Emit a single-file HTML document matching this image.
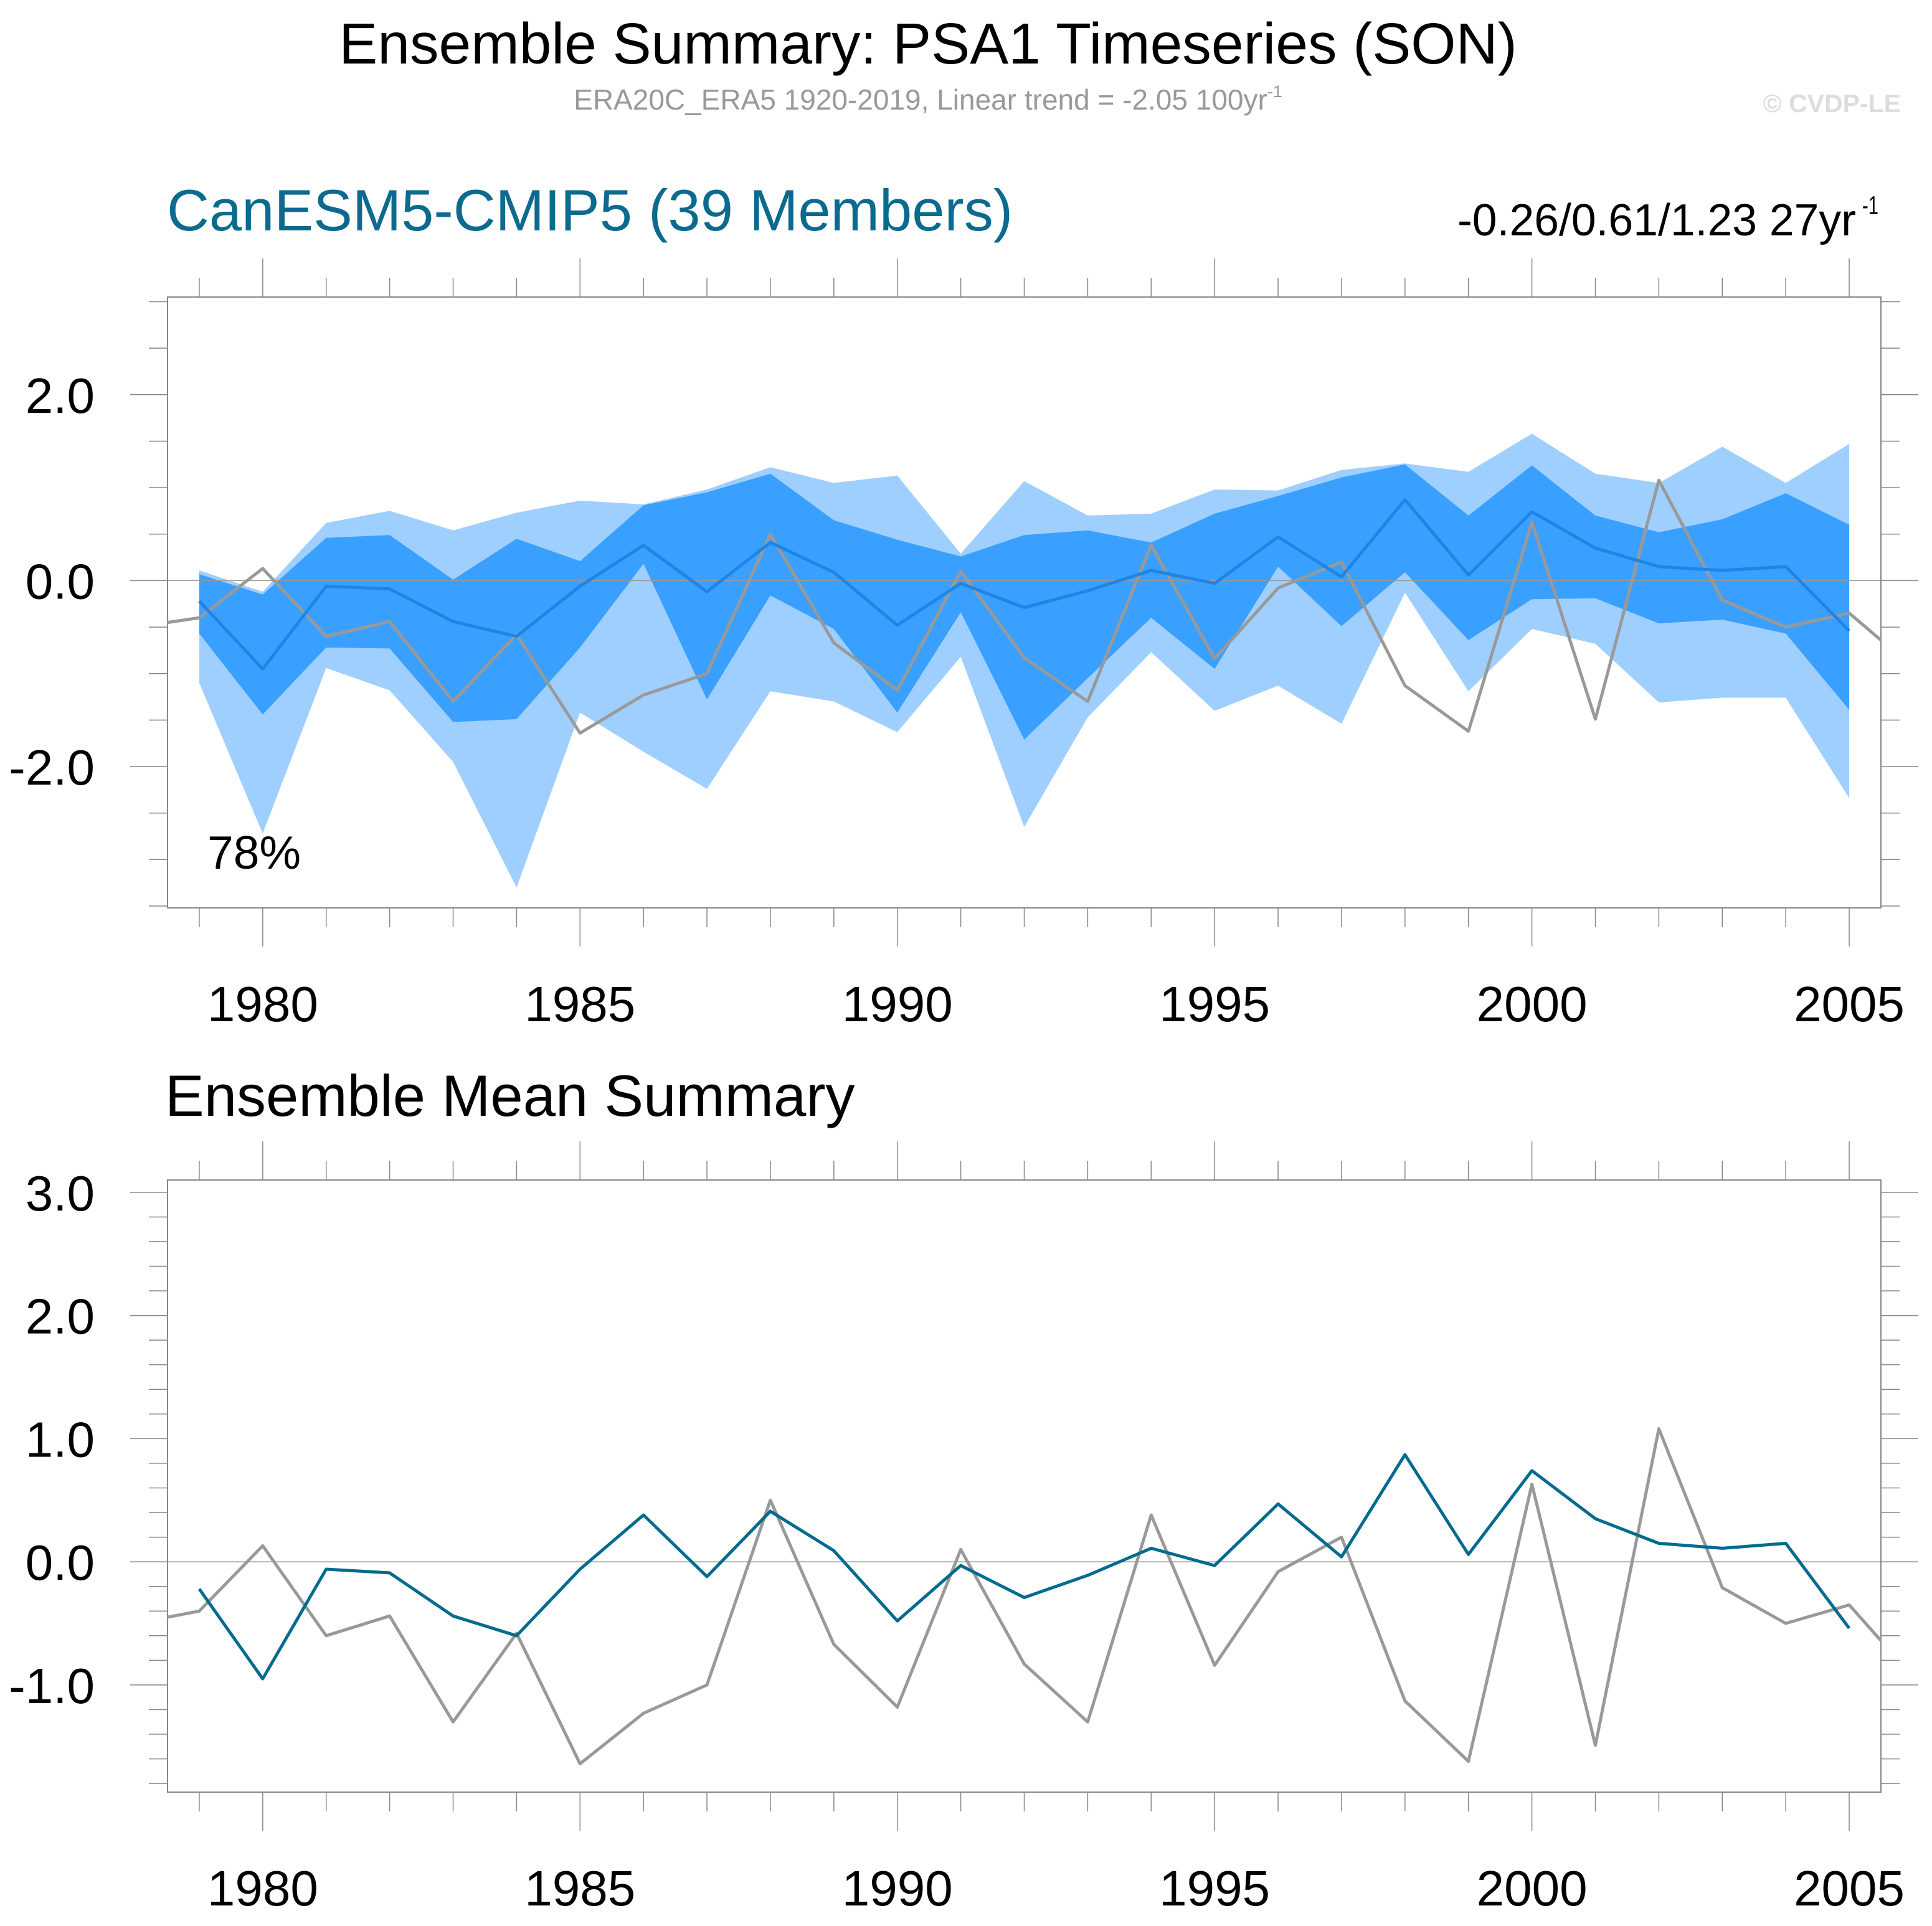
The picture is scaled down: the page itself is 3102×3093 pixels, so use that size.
<!DOCTYPE html>
<html><head><meta charset="utf-8">
<style>
html,body{margin:0;padding:0;background:#fff;}
svg{display:block;font-family:"Liberation Sans",sans-serif;}
</style></head>
<body>
<svg id="chart" width="3102" height="3093" viewBox="0 0 3102 3093" xmlns="http://www.w3.org/2000/svg">
<text x="1490" y="102" font-size="93" text-anchor="middle" fill="#000">Ensemble Summary: PSA1 Timeseries (SON)</text>
<text x="1490" y="176" font-size="46" text-anchor="middle" fill="#999">ERA20C_ERA5 1920-2019, Linear trend = -2.05 100yr<tspan font-size="27" dy="-20">-1</tspan></text>
<text x="3052" y="180" font-size="41" font-weight="bold" text-anchor="end" fill="#ddd">© CVDP-LE</text>
<text x="268" y="370" font-size="94" fill="#0B6A8E">CanESM5-CMIP5 (39 Members)</text>
<text x="2340" y="378" font-size="72" fill="#000" textLength="640" lengthAdjust="spacingAndGlyphs">-0.26/0.61/1.23 27yr</text>
<text x="2990" y="344" font-size="42" fill="#000" textLength="26" lengthAdjust="spacingAndGlyphs">-1</text>
<text x="265" y="1792" font-size="94" fill="#000">Ensemble Mean Summary</text>
<text x="333" y="1395" font-size="75" fill="#000">78%</text>
<g id="top"></g>
<g id="bot"></g>
</svg>
<script>
const years = [1979,1980,1981,1982,1983,1984,1985,1986,1987,1988,1989,1990,1991,1992,1993,1994,1995,1996,1997,1998,1999,2000,2001,2002,2003,2004,2005];
const ensMean = [-0.22,-0.95,-0.06,-0.09,-0.44,-0.60,-0.06,0.38,-0.12,0.41,0.09,-0.48,-0.03,-0.29,-0.11,0.11,-0.03,0.47,0.04,0.87,0.06,0.74,0.35,0.15,0.11,0.15,-0.54];
const bandMax = [0.11,-0.12,0.62,0.75,0.54,0.73,0.86,0.82,0.98,1.22,1.05,1.13,0.29,1.07,0.70,0.72,0.98,0.97,1.19,1.26,1.17,1.58,1.15,1.05,1.44,1.05,1.47];
const bandMin = [-1.10,-2.72,-0.94,-1.18,-1.95,-3.30,-1.42,-1.84,-2.24,-1.19,-1.30,-1.63,-0.82,-2.65,-1.47,-0.77,-1.40,-1.13,-1.54,-0.13,-1.19,-0.52,-0.68,-1.31,-1.26,-1.26,-2.34];
const innerHi = [0.07,-0.15,0.46,0.49,0.01,0.45,0.21,0.81,0.95,1.15,0.65,0.44,0.26,0.49,0.54,0.41,0.72,0.91,1.11,1.25,0.70,1.24,0.70,0.52,0.66,0.94,0.60];
const innerLo = [-0.57,-1.44,-0.72,-0.73,-1.52,-1.49,-0.72,0.18,-1.28,-0.16,-0.52,-1.42,-0.34,-1.71,-1.05,-0.40,-0.95,0.15,-0.49,0.09,-0.64,-0.20,-0.19,-0.46,-0.42,-0.57,-1.39];
const obsYears = [1978.5,1979,1980,1981,1982,1983,1984,1985,1986,1987,1988,1989,1990,1991,1992,1993,1994,1995,1996,1997,1998,1999,2000,2001,2002,2003,2004,2005,2005.5];
const obsVals = [-0.45,-0.40,0.13,-0.60,-0.44,-1.30,-0.58,-1.64,-1.23,-1.00,0.50,-0.67,-1.18,0.10,-0.83,-1.30,0.38,-0.84,-0.08,0.20,-1.13,-1.62,0.63,-1.49,1.08,-0.21,-0.50,-0.35,-0.64];
const topYTicks = [-2,0,2];
const topYLabels = ["-2.0","0.0","2.0"];
const botYTicks = [-1,0,1,2,3];
const botYLabels = ["-1.0","0.0","1.0","2.0","3.0"];
const xTickYears = [1980,1985,1990,1995,2000,2005];

const NS="http://www.w3.org/2000/svg";
function mk(parent,tag,attrs){const e=document.createElementNS(NS,tag);for(const k in attrs)e.setAttribute(k,attrs[k]);parent.appendChild(e);return e;}
const L=269,R=3020,X0=1978.5,X1=2005.5;
const xs=v=>L+(v-X0)/(X1-X0)*(R-L);

function drawAxes(g,top,bottom,ys,ymin,ymax,minorStep,yt,yl,labelY,prefix){
  let z=mk(g,'line',{x1:L,x2:R,y1:ys(0),y2:ys(0),stroke:'#999','stroke-width':1.5});
  
  let f=mk(g,'rect',{x:L,y:top,width:R-L,height:bottom-top,fill:'none',stroke:'#888','stroke-width':2});
  
  const n0=Math.ceil(ymin/minorStep-1e-6),n1=Math.floor(ymax/minorStep+1e-6);
  for(let i=n0;i<=n1;i++){const v=i*minorStep;const major=yt.some(t=>Math.abs(t-v)<1e-6);const len=major?60:30;const y=ys(v);
    const t1=mk(g,'line',{x1:L-len,x2:L,y1:y,y2:y,stroke:'#888','stroke-width':1.5});
    
    const t2=mk(g,'line',{x1:R,x2:R+len,y1:y,y2:y,stroke:'#888','stroke-width':1.5});
    }
  yt.forEach((v,i)=>{const t=mk(g,'text',{x:152,y:ys(v)+29,'font-size':80,'text-anchor':'end',fill:'#000'});t.textContent=yl[i];
    });
  for(let yr=1979;yr<=2005;yr++){const major=yr%5===0;const len=major?62:31;const x=xs(yr);
    const a=mk(g,'line',{x1:x,x2:x,y1:top-len,y2:top,stroke:'#888','stroke-width':1.5});
    
    const b=mk(g,'line',{x1:x,x2:x,y1:bottom,y2:bottom+len,stroke:'#888','stroke-width':1.5});
    }
  xTickYears.forEach(yr=>{const t=mk(g,'text',{x:xs(yr),y:labelY,'font-size':80,'text-anchor':'middle',fill:'#000'});t.textContent=String(yr);
    });
}
function line(g,xv,yv,ys,color,w,name){
  const d=xv.map((x,i)=>(i?'L':'M')+xs(x).toFixed(1)+','+ys(yv[i]).toFixed(1)).join(' ');
  const p=mk(g,'path',{d:d,fill:'none',stroke:color,'stroke-width':w,'stroke-linejoin':'round'});
  
}
function band(g,lo,hi,ys,color,name){
  let d=years.map((x,i)=>(i?'L':'M')+xs(x).toFixed(1)+','+ys(hi[i]).toFixed(1)).join(' ');
  for(let i=years.length-1;i>=0;i--)d+=' L'+xs(years[i]).toFixed(1)+','+ys(lo[i]).toFixed(1);
  const p=mk(g,'path',{d:d+' Z',fill:color,stroke:'none'});
  
}
const gt=document.getElementById('top');
const tT=477,tB=1458,tmin=-3.52,tmax=3.05;
const yst=v=>tB-(v-tmin)/(tmax-tmin)*(tB-tT);
band(gt,bandMin,bandMax,yst,'#9FCFFF','ensemble-range-band');
band(gt,innerLo,innerHi,yst,'#3AA0FF','ensemble-inner-band');
drawAxes(gt,tT,tB,yst,tmin,tmax,0.5,topYTicks,topYLabels,1640,'top');
line(gt,obsYears,obsVals,yst,'#999',5,'top-observed-line');
line(gt,years,ensMean,yst,'#1E84E6',5,'top-ensemble-mean-line');
const gb=document.getElementById('bot');
const bT=1895,bB=2878,bmin=-1.87,bmax=3.1;
const ysb=v=>bB-(v-bmin)/(bmax-bmin)*(bB-bT);
drawAxes(gb,bT,bB,ysb,bmin,bmax,0.2,botYTicks,botYLabels,3060,'bottom');
line(gb,obsYears,obsVals,ysb,'#999',5,'bottom-observed-line');
line(gb,years,ensMean,ysb,'#006B8F',5,'bottom-ensemble-mean-line');
</script>
</body></html>
